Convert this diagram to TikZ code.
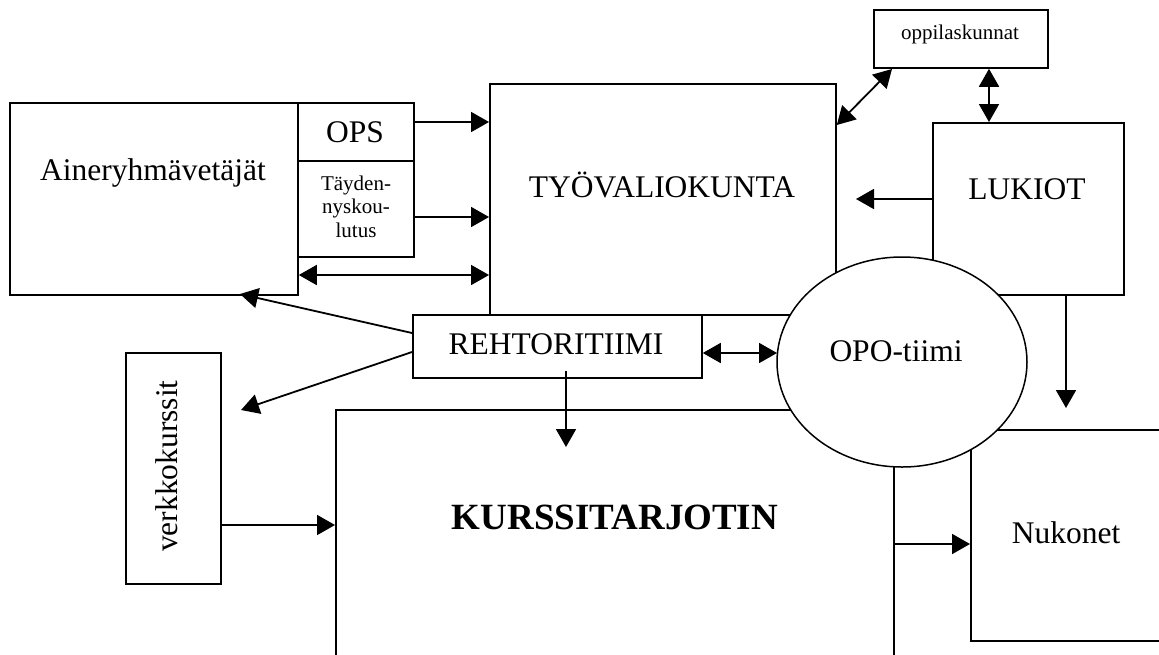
\documentclass[tikz,border=0pt]{standalone}
\usepackage{fontspec}
\setmainfont{Liberation Serif}
\usetikzlibrary{arrows.meta,shapes.geometric}
\begin{document}
\begin{tikzpicture}[x=1pt,y=-1pt,
  box/.style={draw,line width=1.8pt,inner sep=0pt,anchor=north west},
  arr/.style={line width=1.8pt,-{Triangle[length=18pt,width=20pt]}},
  darr/.style={line width=1.8pt,{Triangle[length=18pt,width=20pt]}-{Triangle[length=18pt,width=20pt]}},
  big/.style={font=\fontsize{31.5}{37}\selectfont,anchor=base,inner sep=0pt},
  small/.style={font=\fontsize{21}{24}\selectfont,anchor=base,inner sep=0pt},
]
\useasboundingbox (0,0) rectangle (1159,654);
\fill[white] (0,0) rectangle (1159,654);

% boxes
\node[box,minimum width=288pt,minimum height=192pt] (ainer) at (9,102) {};
\node[box,minimum width=116pt,minimum height=58pt] (ops) at (297,102) {};
\node[box,minimum width=116pt,minimum height=96pt] (tayd) at (297,160) {};
\node[box,minimum width=346pt,minimum height=231pt] (tyo) at (489,83) {};
\node[box,minimum width=174pt,minimum height=58pt] (opp) at (873,9) {};
\node[box,minimum width=191pt,minimum height=172pt] (lukiot) at (932,122) {};
\node[box,minimum width=289pt,minimum height=63pt] (rehtori) at (412,314) {};
\node[box,minimum width=95pt,minimum height=231pt] (verkko) at (125,352) {};
\node[box,minimum width=558pt,minimum height=300pt] (kurssi) at (335,409) {};
\node[box,minimum width=260pt,minimum height=211pt] (nuk) at (970,429) {};

% free ends
\coordinate (aTip) at (240,294);
\coordinate (vTip) at (241,410);
\coordinate (rkS) at (566,371);
\coordinate (rkT) at (566,447);
\coordinate (lTip) at (856,199);
\coordinate (nTip) at (1066,408);
\coordinate (oTip) at (892,69);

% connectors
\draw[arr] (ops.east |- 0,122) -- (tyo.west |- 0,122);
\draw[arr] (tayd.east |- 0,217) -- (tyo.west |- 0,217);
\draw[darr] (ainer.east |- 0,275) -- (tyo.west |- 0,275);
\draw[arr] (rehtori.west |- 0,333) -- (aTip);
\draw[arr] (rehtori.west |- 0,352) -- (vTip);
\draw[arr] (rkS) -- (rkT);
\draw[arr] (verkko.east |- 0,525) -- (kurssi.west |- 0,525);
\draw[arr] (kurssi.east |- 0,544) -- (nuk.west |- 0,544);
\draw[arr] (lukiot.west |- 0,199) -- (lTip);
\draw[arr] (lukiot.south -| 1066,0) -- (nTip);
\draw[darr] (opp.south -| 989,0) -- (lukiot.north -| 989,0);
\draw[darr] (tyo.east |- 0,125) -- (oTip);

% ellipse
\node[draw,ellipse,fill=white,line width=1.5pt,minimum width=250pt,minimum height=210pt,inner sep=0pt] (opo) at (902,362) {};
\draw[darr] (rehtori.east |- 0,353) -- (777,353) coordinate (opoW);

% texts
\node[big] (ainerT) at (153,180) {Aineryhmävetäjät};
\node[big] (opsT) at (355,142) {OPS};
\node[small] (taydT1) at (356,190) {Täyden-};
\node[small] (taydT2) at (356,213) {nyskou-};
\node[small] (taydT3) at (356,237) {lutus};
\node[big] (tyoT) at (662,197) {TYÖVALIOKUNTA};
\node[small] (oppT) at (960,39) {oppilaskunnat};
\node[big] (lukiotT) at (1027,199) {LUKIOT};
\node[big] (rehtoriT) at (556,354) {REHTORITIIMI};
\node[big] (opoT) at (896,361) {OPO-tiimi};
\node[font=\fontsize{37}{42}\selectfont\bfseries,anchor=base,inner sep=0pt] (kurssiT) at (615,529) {KURSSITARJOTIN};
\node[big] (nukT) at (1066,543) {Nukonet};
\node[big,rotate=90] (verkkoT) at (177,466) {verkkokurssit};
\end{tikzpicture}
\end{document}
